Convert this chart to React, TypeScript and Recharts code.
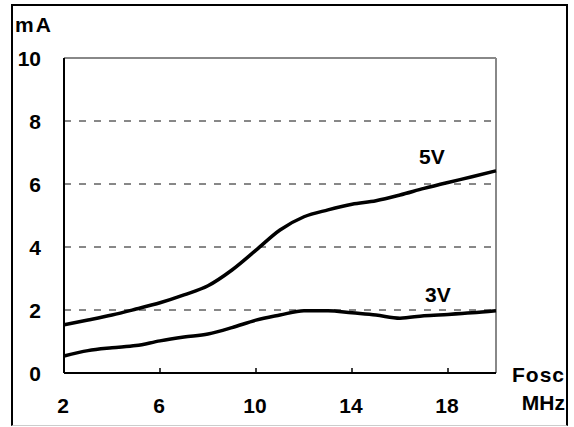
import React from 'react';
import {
  LineChart,
  Line,
  XAxis,
  YAxis,
  CartesianGrid,
  ReferenceLine,
} from 'recharts';

// oscillator frequency (MHz)
const freqs = [2, 3, 4, 5, 6, 7, 8, 9, 10, 11, 12, 13, 14, 15, 16, 17, 18, 19, 20];
// supply current (mA) at 5V and 3V
const current5V = [1.53, 1.68, 1.84, 2.03, 2.23, 2.48, 2.77, 3.27, 3.9, 4.54, 4.96, 5.18, 5.36, 5.47, 5.65, 5.86, 6.05, 6.23, 6.42];
const current3V = [0.54, 0.71, 0.8, 0.87, 1.02, 1.14, 1.24, 1.44, 1.68, 1.84, 1.98, 1.98, 1.91, 1.84, 1.74, 1.82, 1.86, 1.91, 1.98];

const xTicks = [2, 6, 10, 14, 18];
const yTicks = [0, 2, 4, 6, 8, 10];

const FONT = '"Liberation Sans", Arial, sans-serif';

const data = freqs.map((f, i) => ({ f, v5: current5V[i], v3: current3V[i] }));

function XTick(props: any) {
  const { x, y, payload } = props;
  return (
    <g>
      <line x1={x} x2={x} y1={y} y2={y - 5} stroke="#000" strokeWidth={1.5} />
      <text
        x={x - 1}
        y={y + 40}
        textAnchor="middle"
        fontFamily={FONT}
        fontWeight="bold"
        fontSize={21}
        fill="#000"
      >
        {payload.value}
      </text>
    </g>
  );
}

function YTick(props: any) {
  const { x, y, payload } = props;
  return (
    <g>
      <text
        x={x - 23}
        y={y + 8}
        textAnchor="end"
        fontFamily={FONT}
        fontWeight="bold"
        fontSize={21}
        fill="#000"
      >
        {payload.value}
      </text>
    </g>
  );
}

const textStyle: React.CSSProperties = {
  position: 'absolute',
  fontFamily: FONT,
  fontWeight: 'bold',
  fontSize: 21,
  lineHeight: '21px',
  color: '#000',
  whiteSpace: 'nowrap',
};

export default function App() {
  return (
    <div
      style={{
        position: 'absolute',
        left: 0,
        top: 0,
        width: 574,
        height: 427,
        background: '#fff',
      }}
    >
      <div
        style={{
          position: 'absolute',
          left: 11,
          top: 4,
          width: 553,
          height: 419,
          borderLeft: '2px solid #000',
          borderTop: '2px solid #000',
          borderRight: '2px solid #000',
          borderBottom: '1px solid #ccc',
        }}
      />
      <LineChart
        width={574}
        height={427}
        data={data}
        margin={{ top: 58, right: 78, bottom: 0, left: 0 }}
        style={{ position: 'absolute', left: 0, top: 0 }}
      >
        <CartesianGrid
          vertical={false}
          stroke="#111"
          strokeDasharray="7 8"
          strokeWidth={1}
        />
        <ReferenceLine y={10} stroke="#888" strokeWidth={2} />
        <ReferenceLine x={20} stroke="#888" strokeWidth={2} />
        <XAxis
          dataKey="f"
          type="number"
          domain={[2, 20]}
          ticks={xTicks}
          height={54}
          tickSize={0}
          tickMargin={0}
          tickLine={false}
          axisLine={{ stroke: '#000', strokeWidth: 2 }}
          tick={<XTick />}
          interval={0}
        />
        <YAxis
          type="number"
          domain={[0, 10]}
          ticks={yTicks}
          width={64}
          tickSize={0}
          tickMargin={0}
          tickLine={false}
          axisLine={{ stroke: '#000', strokeWidth: 2 }}
          tick={<YTick />}
          interval={0}
        />
        <Line
          type="monotone"
          dataKey="v5"
          stroke="#000"
          strokeWidth={3.5}
          dot={false}
          isAnimationActive={false}
        />
        <Line
          type="monotone"
          dataKey="v3"
          stroke="#000"
          strokeWidth={3.5}
          dot={false}
          isAnimationActive={false}
        />
      </LineChart>
      <div style={{ ...textStyle, left: 15, top: 14, letterSpacing: 2 }}>mA</div>
      <div style={{ ...textStyle, left: 419, top: 146 }}>5V</div>
      <div style={{ ...textStyle, left: 425, top: 284 }}>3V</div>
      <div style={{ ...textStyle, right: 9, top: 364, letterSpacing: 1 }}>Fosc</div>
      <div style={{ ...textStyle, right: 9, top: 392 }}>MHz</div>
    </div>
  );
}
